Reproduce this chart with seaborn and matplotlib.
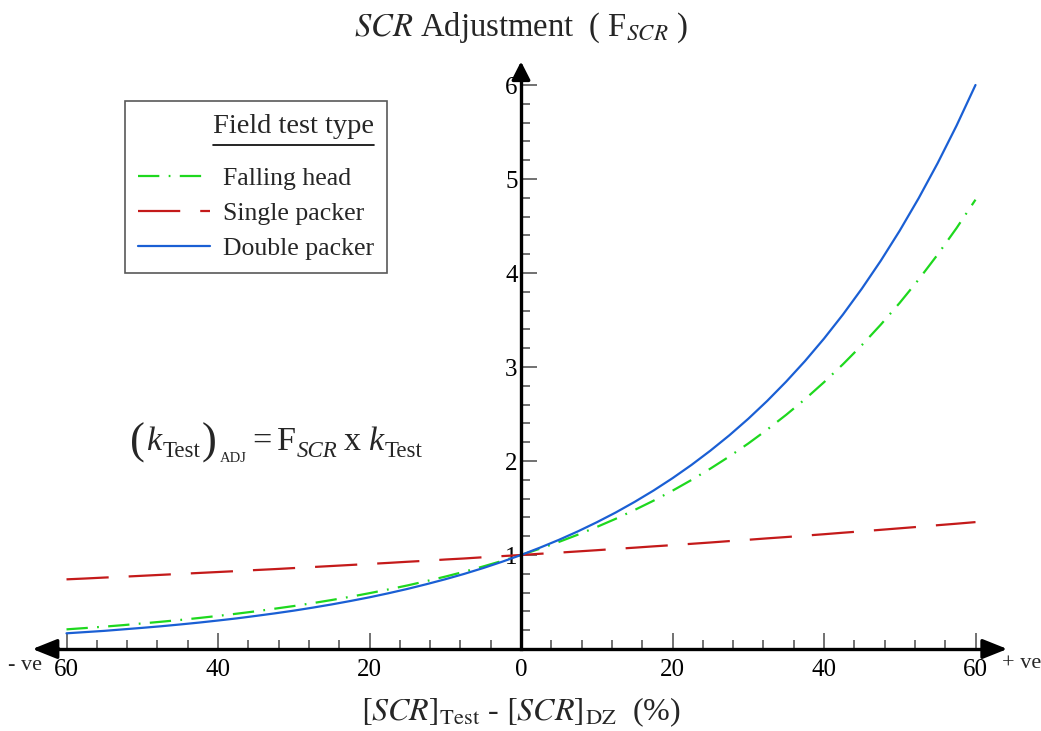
import matplotlib
matplotlib.use("Agg")
import matplotlib.pyplot as plt
from matplotlib.lines import Line2D
import pandas as pd
import seaborn as sns

# SCR difference, [SCR]_Test - [SCR]_DZ (%)
delta = [-60, -57.5, -55, -52.5, -50, -47.5, -45, -42.5, -40, -37.5, -35, -32.5,
         -30, -27.5, -25, -22.5, -20, -17.5, -15, -12.5, -10, -7.5, -5, -2.5, 0,
         2.5, 5, 7.5, 10, 12.5, 15, 17.5, 20, 22.5, 25, 27.5, 30, 32.5, 35, 37.5,
         40, 42.5, 45, 47.5, 50, 52.5, 55, 57.5, 60]

# SCR adjustment factor F_SCR for each field test type
falling_head = [0.209, 0.223, 0.238, 0.254, 0.272, 0.290, 0.309, 0.330, 0.352,
                0.376, 0.401, 0.429, 0.457, 0.488, 0.521, 0.556, 0.594, 0.634,
                0.676, 0.722, 0.770, 0.822, 0.878, 0.937, 1.000,
                1.067, 1.139, 1.216, 1.298, 1.385, 1.479, 1.578, 1.684, 1.798,
                1.919, 2.048, 2.186, 2.334, 2.491, 2.658, 2.838, 3.029, 3.233,
                3.451, 3.683, 3.931, 4.196, 4.478, 4.780]
single_packer = [0.741, 0.750, 0.760, 0.769, 0.779, 0.789, 0.799, 0.809, 0.819,
                 0.829, 0.840, 0.850, 0.861, 0.872, 0.883, 0.894, 0.905, 0.916,
                 0.928, 0.939, 0.952, 0.963, 0.976, 0.988, 1.000,
                 1.013, 1.025, 1.038, 1.051, 1.065, 1.078, 1.092, 1.105, 1.119,
                 1.133, 1.148, 1.162, 1.177, 1.191, 1.206, 1.221, 1.237, 1.252,
                 1.268, 1.284, 1.300, 1.317, 1.333, 1.350]
double_packer = [0.167, 0.180, 0.193, 0.209, 0.225, 0.242, 0.261, 0.281, 0.303,
                 0.326, 0.352, 0.379, 0.408, 0.440, 0.474, 0.511, 0.550, 0.593,
                 0.639, 0.689, 0.742, 0.799, 0.861, 0.928, 1.000,
                 1.078, 1.161, 1.251, 1.348, 1.452, 1.565, 1.686, 1.817, 1.958,
                 2.110, 2.273, 2.449, 2.639, 2.844, 3.064, 3.302, 3.558, 3.834,
                 4.131, 4.451, 4.796, 5.168, 5.568, 6.000]

test_types = ["Falling head", "Single packer", "Double packer"]
x_tick_values = [-60, -40, -20, 0, 20, 40, 60]
y_tick_values = [1, 2, 3, 4, 5, 6]

series = {"Falling head": falling_head,
          "Single packer": single_packer,
          "Double packer": double_packer}
df = pd.concat(
    [pd.DataFrame({"delta": delta, "F": vals, "type": name})
     for name, vals in series.items()],
    ignore_index=True,
)

palette = {"Falling head": "#1ed81e",
           "Single packer": "#c41a1a",
           "Double packer": "#1a5fd4"}
dash_map = {"Falling head": (9.6, 4.2, 0.8, 4.2),
            "Single packer": (19.0, 9.0),
            "Double packer": ""}

sns.set_theme(style="white")
plt.rcParams["font.family"] = ["Liberation Serif", "DejaVu Serif"]
plt.rcParams["mathtext.fontset"] = "stix"

W, H = 1041, 731
fig = plt.figure(figsize=(W / 100, H / 100), dpi=100)
ax = fig.add_axes([0, 0, 1, 1])
ax.set_facecolor("white")

sns.lineplot(data=df, x="delta", y="F", hue="type", style="type",
             hue_order=test_types, style_order=test_types,
             palette=palette, dashes=dash_map, linewidth=1.6,
             sort=False, estimator=None, ax=ax)

# x=0 sits at px 521 (7.575 px per unit); y=0 at px 649 (94 px per unit)
ax.set_xlim((0 - 521) / 7.575, (W - 521) / 7.575)
ax.set_ylim((649 - H) / 94, 649 / 94)
ax.set_xlabel("")
ax.set_ylabel("")

# axes crossing at the origin
for s in ["top", "right"]:
    ax.spines[s].set_visible(False)
for s in ["left", "bottom"]:
    ax.spines[s].set_position(("data", 0))
    ax.spines[s].set_color("black")
    ax.spines[s].set_linewidth(2.4)
ax.spines["bottom"].set_bounds(-62.0, 62.0)
ax.spines["left"].set_bounds(0, 6.15)

x_arrow = dict(arrowstyle="-|>,head_length=0.75,head_width=0.3",
               color="black", lw=2.4, shrinkA=0, shrinkB=0, mutation_scale=20)
y_arrow = dict(arrowstyle="-|>,head_length=0.55,head_width=0.28",
               color="black", lw=2.4, shrinkA=0, shrinkB=0, mutation_scale=20)
ax.annotate("", xy=(-64.5, 0), xytext=(-61, 0), arrowprops=x_arrow)
ax.annotate("", xy=(64.2, 0), xytext=(61, 0), arrowprops=x_arrow)
ax.annotate("", xy=(0, 6.25), xytext=(0, 6.1), arrowprops=y_arrow)

# ticks
ax.set_xticks(x_tick_values)
ax.set_xticklabels([str(abs(v)) for v in x_tick_values])
ax.set_xticks([v for v in range(-56, 57, 4) if v % 20 != 0], minor=True)
ax.set_yticks(y_tick_values)
ax.set_yticklabels([str(v) for v in y_tick_values])
ax.set_yticks([round(0.2 * i, 1) for i in range(1, 30) if i % 5 != 0], minor=True)
ax.tick_params(which="both", direction="in", color="0.35", labelcolor="black",
               width=1.2, labelsize=18, bottom=True, left=True)
ax.tick_params(which="major", length=11.5)
ax.tick_params(which="minor", length=6.5)
ax.tick_params(axis="x", pad=7)
ax.tick_params(axis="y", pad=2.5)

# legend
handles, labels = ax.get_legend_handles_labels()
ax.get_legend().remove()
order = [labels.index(t) for t in test_types]
leg = ax.legend([handles[i] for i in order], [labels[i] for i in order],
                title="Field test type", loc="upper left",
                bbox_to_anchor=(125 / W, 1 - 101 / H), bbox_transform=fig.transFigure,
                borderaxespad=0, frameon=True, fancybox=False, framealpha=1,
                edgecolor="0.35", fontsize=18.5, title_fontsize=20.5,
                handlelength=2.8, handletextpad=0.5, labelspacing=0.47,
                borderpad=0.5, alignment="right")
leg.get_frame().set_linewidth(1.2)
leg._legend_box.sep = 20
for line in leg.get_lines():
    line.set_linewidth(1.6)

# title and axis caption
fig.text(0.5005, 1 - 28 / H, r"$\mathit{SCR}$ Adjustment  ( F$_{\mathit{SCR}}$ )",
         ha="center", va="center", fontsize=23.5)
fig.text(0.5005, 1 - 712 / H,
         r"$[\mathit{SCR}]_{\mathrm{Test}}$ - $[\mathit{SCR}]_{\mathrm{DZ}}$  (%)",
         ha="center", va="center", fontsize=23)

fig.text(8 / W, 1 - 665 / H, "- ve", ha="left", va="center", fontsize=16)
fig.text(1002 / W, 1 - 664 / H, "+ ve", ha="left", va="center", fontsize=16)

renderer = fig.canvas.get_renderer()

# adjustment formula, (k_Test)_ADJ = F_SCR x k_Test, set piece by piece:
# (text, size, style, baseline px, gap before px)
formula = [
    ("(", 32, "normal", 454, 0),
    ("k", 24.5, "italic", 450, 1),
    ("Test", 16.5, "normal", 457, 2),
    (")", 32, "normal", 454, 1),
    ("ADJ", 10.5, "normal", 462, 3),
    ("=", 24.5, "normal", 450, 6),
    ("F", 24.5, "normal", 450, 5),
    ("SCR", 16.5, "italic", 457, 1),
    ("x", 24.5, "normal", 450, 6),
    ("k", 24.5, "italic", 450, 7),
    ("Test", 16.5, "normal", 457, 2),
]
cursor = 130
for txt, fs, st, base, gap in formula:
    cursor += gap
    t = fig.text(cursor / W, 1 - base / H, txt, ha="left", va="baseline",
                 fontsize=fs, fontstyle=st)
    cursor = t.get_window_extent(renderer).x1

# underline under the legend title
fig.canvas.draw()
tb = leg.get_title().get_window_extent(renderer)
uy = tb.y0 - 6
fig.add_artist(Line2D([tb.x0 / W, tb.x1 / W], [uy / H, uy / H],
                      transform=fig.transFigure, color="black", lw=1.2))

fig.savefig("out.png", dpi=100, facecolor="white")
